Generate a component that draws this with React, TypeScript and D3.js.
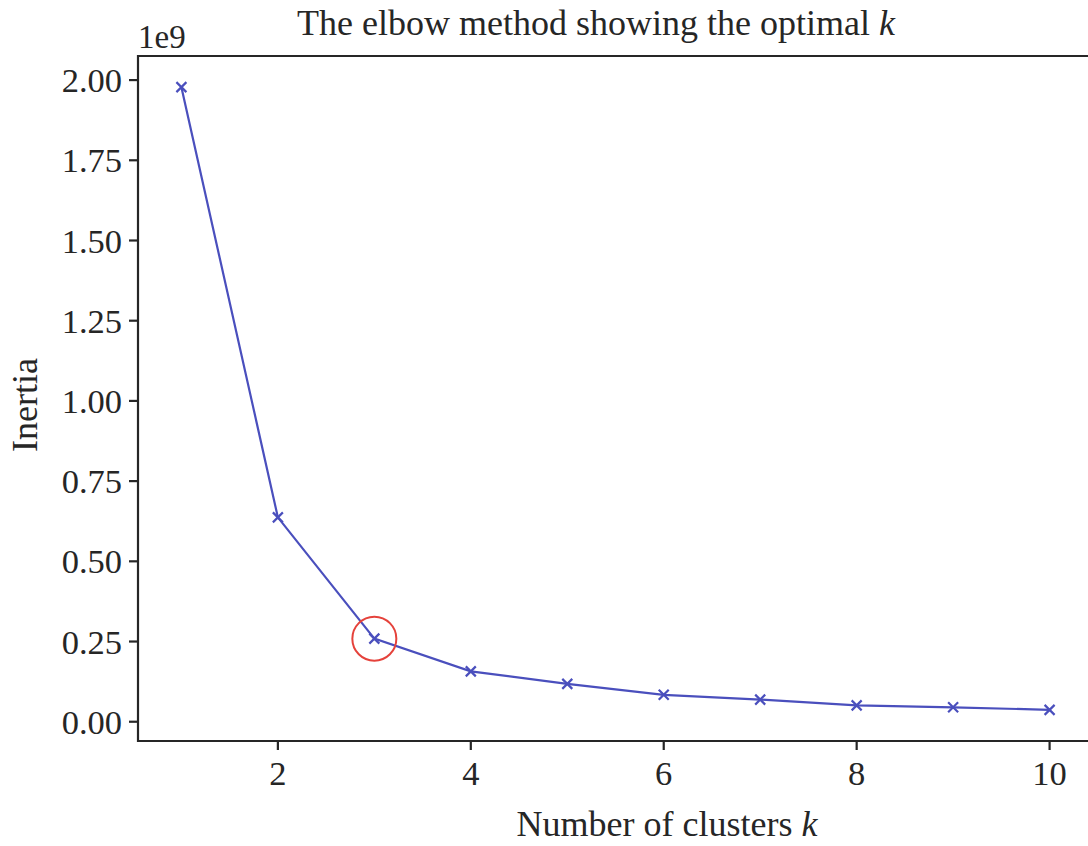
import { useEffect, useRef } from 'react'
import * as d3 from 'd3'

const clusters = [1, 2, 3, 4, 5, 6, 7, 8, 9, 10]
const inertia = [1.978, 0.637, 0.259, 0.157, 0.118, 0.084, 0.069, 0.051, 0.045, 0.037]
const yTicks = [0, 0.25, 0.5, 0.75, 1.0, 1.25, 1.5, 1.75, 2.0]
const xTicks = [2, 4, 6, 8, 10]
const optimalK = 3

const FONT = '"Liberation Serif", "DejaVu Serif", serif'

export default function App() {
  const ref = useRef<SVGSVGElement>(null)

  useEffect(() => {
    document.body.style.margin = '0'
    const svg = d3.select(ref.current)
    svg.selectAll('*').remove()

    const left = 138
    const right = 1093
    const top = 56
    const bottom = 741

    // matplotlib style 5% margins around the data
    const xPad = (d3.max(clusters)! - d3.min(clusters)!) * 0.05
    const yPad = (d3.max(inertia)! - d3.min(inertia)!) * 0.05
    const x = d3
      .scaleLinear()
      .domain([d3.min(clusters)! - xPad, d3.max(clusters)! + xPad])
      .range([left, right])
    const y = d3
      .scaleLinear()
      .domain([d3.min(inertia)! - yPad, d3.max(inertia)! + yPad])
      .range([bottom, top])

    const ink = '#262626'
    const blue = '#4a4fbd'

    // spines
    svg
      .append('path')
      .attr('d', `M${right},${top}H${left}V${bottom}H${right}`)
      .attr('fill', 'none')
      .attr('stroke', ink)
      .attr('stroke-width', 2.2)

    // y ticks
    const yg = svg.append('g')
    yg.selectAll('line')
      .data(yTicks)
      .enter()
      .append('line')
      .attr('x1', left - 9)
      .attr('x2', left)
      .attr('y1', (d) => y(d))
      .attr('y2', (d) => y(d))
      .attr('stroke', ink)
      .attr('stroke-width', 2.2)
    yg.selectAll('text')
      .data(yTicks)
      .enter()
      .append('text')
      .attr('x', left - 16)
      .attr('y', (d) => y(d))
      .attr('dy', '0.35em')
      .attr('text-anchor', 'end')
      .style('font-family', FONT)
      .style('font-size', '34.5px')
      .style('fill', ink)
      .text((d) => d3.format('.2f')(d))

    // x ticks
    const xg = svg.append('g')
    xg.selectAll('line')
      .data(xTicks)
      .enter()
      .append('line')
      .attr('x1', (d) => x(d))
      .attr('x2', (d) => x(d))
      .attr('y1', bottom)
      .attr('y2', bottom + 9)
      .attr('stroke', ink)
      .attr('stroke-width', 2.2)
    xg.selectAll('text')
      .data(xTicks)
      .enter()
      .append('text')
      .attr('x', (d) => x(d))
      .attr('y', 785)
      .attr('text-anchor', 'middle')
      .style('font-family', FONT)
      .style('font-size', '34.5px')
      .style('fill', ink)
      .text((d) => d)

    // offset text
    svg
      .append('text')
      .attr('x', left)
      .attr('y', 48)
      .style('font-family', FONT)
      .style('font-size', '33px')
      .style('fill', ink)
      .text('1e9')

    // line + x markers
    const pts = clusters.map((k, i) => [x(k), y(inertia[i])] as [number, number])
    svg
      .append('path')
      .attr('d', d3.line()(pts))
      .attr('fill', 'none')
      .attr('stroke', blue)
      .attr('stroke-width', 2.2)

    const m = 5
    svg
      .selectAll('.mk')
      .data(pts)
      .enter()
      .append('path')
      .attr('class', 'mk')
      .attr('d', ([px, py]) => `M${px - m},${py - m}L${px + m},${py + m}M${px - m},${py + m}L${px + m},${py - m}`)
      .attr('stroke', blue)
      .attr('stroke-width', 2.2)

    // elbow highlight
    svg
      .append('circle')
      .attr('cx', x(optimalK))
      .attr('cy', y(inertia[clusters.indexOf(optimalK)]))
      .attr('r', 22)
      .attr('fill', 'none')
      .attr('stroke', '#e5423b')
      .attr('stroke-width', 2)

    // title + labels
    const title = svg
      .append('text')
      .attr('x', 596)
      .attr('y', 35)
      .attr('text-anchor', 'middle')
      .style('font-family', FONT)
      .style('font-size', '36px')
      .style('fill', ink)
    title.append('tspan').text('The elbow method showing the optimal ')
    title.append('tspan').style('font-style', 'italic').text('k')

    const xl = svg
      .append('text')
      .attr('x', 667)
      .attr('y', 836)
      .attr('text-anchor', 'middle')
      .style('font-family', FONT)
      .style('font-size', '36px')
      .style('fill', ink)
    xl.append('tspan').text('Number of clusters ')
    xl.append('tspan').style('font-style', 'italic').text('k')

    svg
      .append('text')
      .attr('transform', `translate(37,405) rotate(-90)`)
      .attr('text-anchor', 'middle')
      .style('font-family', FONT)
      .style('font-size', '36px')
      .style('fill', ink)
      .text('Inertia')
  }, [])

  return <svg ref={ref} width={1088} height={846} style={{ display: 'block', background: '#fff' }} />
}
